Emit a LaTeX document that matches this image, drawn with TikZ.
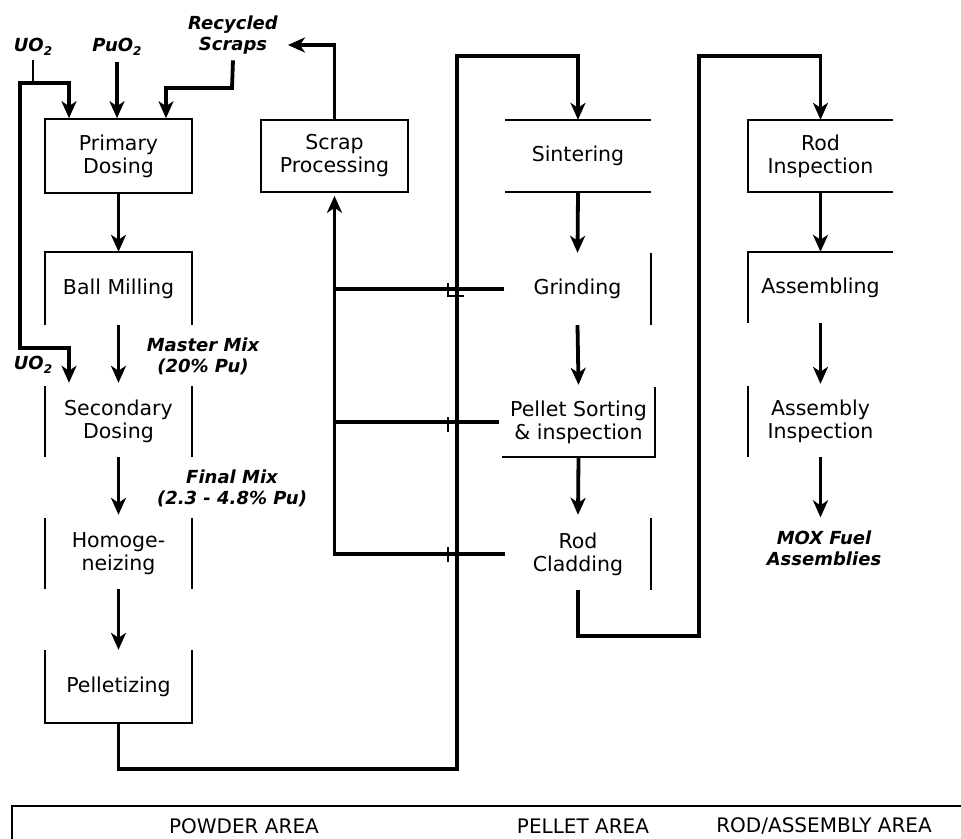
\documentclass[tikz,border=0pt]{standalone}
\usepackage{fontspec}
\newfontfamily\dv{DejaVu Sans}[BoldFont={DejaVu Sans Bold},ItalicFont={DejaVu Sans Oblique},BoldItalicFont={DejaVu Sans Bold Oblique}]
\usetikzlibrary{arrows.meta}
\newcommand\boxfont{\dv\fontsize{20.5}{23}\selectfont}
\newcommand\lblfont{\dv\bfseries\itshape\fontsize{18}{21}\selectfont}
\newcommand\areafont{\dv\fontsize{20}{23}\selectfont}
\newcommand\subtwo{\raisebox{-0.45ex}{\fontsize{12}{12}\selectfont 2}}
\begin{document}
\begin{tikzpicture}[x=1pt,y=-1pt,
  box/.style={inner sep=0pt, minimum width=147pt, minimum height=72pt, align=center, font=\boxfont},
  lbl/.style={inner sep=0pt, align=center, font=\lblfont},
  side/.style={line width=1.6pt},
  trunk/.style={line width=3.8pt},
  flow/.style={line width=3.8pt, -{Stealth[length=17pt,width=15pt,inset=5pt]}},
  bothflow/.style={line width=3.8pt, {Stealth[length=17pt,width=15pt,inset=5pt]}-{Stealth[length=17pt,width=15pt,inset=5pt]}},
  tickmark/.style={line width=1.4pt}]
\useasboundingbox (0,0) rectangle (961,838);
\clip (0,0) rectangle (961,838);

% ---------- powder column ----------
\node[box, minimum height=74pt, draw, side] (pd) at (118.5,156) {Primary\\Dosing};
\node[box, minimum height=73pt] (bm) at (118.5,288.5) {Ball Milling};
\node[box, minimum height=71pt] (sd) at (118.5,421.5) {Secondary\\Dosing};
\node[box, minimum height=71pt] (hom) at (118.5,553.5) {Homoge-\\neizing};
\node[box, minimum height=73pt] (pel) at (118.5,686.5) {Pelletizing};
\node[box, draw, side] (sp) at (334.5,156) {Scrap\\Processing};

% ---------- pellet column ----------
\node[box, minimum width=146pt] (sin) at (578,156) {Sintering};
\node[box, minimum width=146pt] (grd) at (577.5,289) {Grinding};
\node[box, minimum width=153pt, minimum height=70pt] (pso) at (578.5,422) {Pellet Sorting\\\& inspection};
\node[box, minimum width=146pt] (rc) at (578,554) {Rod\\Cladding};

% ---------- rod / assembly column ----------
\node[box, minimum width=145pt] (ri) at (820.5,156) {Rod\\Inspection};
\node[box, minimum width=145pt, minimum height=71pt] (asm) at (820.5,287.5) {Assembling};
\node[box, minimum width=145pt, minimum height=71pt] (ai) at (820.5,421.5) {Assembly\\Inspection};

% ---------- labels ----------
\node[lbl] (uo) at (33,47) {UO\subtwo};
\node[lbl] (pu) at (117,47) {PuO\subtwo};
\node[lbl] (rs) at (233,35) {Recycled\\Scraps};
\node[lbl] (uo2) at (33,365) {UO\subtwo};
\node[lbl] (mm) at (203,356) {Master Mix\\(20\% Pu)};
\node[lbl] (fm) at (232,488) {Final Mix\\(2.3 - 4.8\% Pu)};
\node[lbl] (mox) at (824,548) {MOX Fuel\\Assemblies};

% ---------- partial box outlines ----------
\draw[side] (bm.south west) -- (bm.north west) -- (bm.north east) -- (bm.south east);
\draw[side] (sd.north west) -- (sd.south west) (sd.north east) -- (sd.south east);
\draw[side] (hom.north west) -- (hom.south west) (hom.north east) -- (hom.south east);
\draw[side] (pel.north west) -- (pel.south west) -- (pel.south east) -- (pel.north east);
\draw[side] (sin.north west) -- (sin.north east) (sin.south west) -- (sin.south east);
\draw[side] (grd.north east) -- (grd.south east);
\draw[side] (pso.north east) -- (pso.south east) -- (pso.south west);
\draw[side] (rc.north east) -- (rc.south east);
\draw[side] (ri.north east) -- (ri.north west) -- (ri.south west) -- (ri.south east);
\draw[side] (asm.north east) -- (asm.north west) -- (asm.south west);
\draw[side] (ai.north west) -- (ai.south west);

% ---------- inputs ----------
\coordinate (u1) at (33,83);
\coordinate (u2) at (20,83);
\coordinate (u3) at (69,83);
\coordinate (u4) at (20,348);
\coordinate (u5) at (69,348);
\draw[side] (uo.south) ++(0,4) -- (u1);
\draw[bothflow] (u3 |- pd.north) -- (u3) -- (u2) -- (u4) -- (u5) -- ([yshift=3pt]u5 |- sd.north);
\draw[flow] ([yshift=-6pt]pu.south) -- (pu.south |- pd.north);
\coordinate (k1) at (232,88);
\coordinate (k2) at (166,88);
\draw[flow] ([yshift=-6pt]rs.south) -- (k1) -- (k2) -- (k2 |- pd.north);

% ---------- powder flow ----------
\draw[flow] (pd.south) -- (bm.north);
\draw[flow] (bm.south) -- ([yshift=3pt]sd.north);
\draw[flow] (sd.south) -- ([yshift=3pt]hom.north);
\draw[flow] (hom.south) -- (pel.north);
\coordinate (p1) at (457,769);
\coordinate (p2) at (457,56);
\draw[flow] (pel.south) |- (p1) -- (p2) -| (sin.north);

% ---------- pellet flow ----------
\draw[flow] (sin.south) -- (grd.north);
\draw[flow] (grd.south) -- ([yshift=2pt]pso.north);
\draw[flow] (pso.south) -- ([yshift=3pt]rc.north);
\coordinate (r1) at (699,636);
\coordinate (r2) at (699,56);
\draw[flow] (rc.south) |- (r1) -- (r2) -| (ri.north);

% ---------- rod flow ----------
\draw[flow] (ri.south) -- (asm.north);
\draw[flow] (asm.south) -- ([yshift=2pt]ai.north);
\draw[flow, shorten >=13pt] (ai.south) -- (ai.south |- mox.north);

% ---------- scrap recycling ----------
\draw[trunk] (grd.west) -- (grd.west -| sp.south);
\draw[trunk] ([xshift=-3pt]pso.west) -- (pso.west -| sp.south);
\draw[flow] (rc.west) -| ([yshift=-3pt]sp.south);
\draw[flow] (sp.north) |- ([xshift=10pt,yshift=-10pt]rs.east);

% crossing marks
\draw[tickmark] (448,283) -- (448,296) -- (464,296);
\draw[tickmark] (448,417) -- (448,432);
\draw[tickmark] (448,547) -- (448,562);

% ---------- area strip ----------
\node[draw, side, inner sep=0pt, anchor=north west, minimum width=1000pt, minimum height=80pt] (area) at (11,805) {};
\node[font=\areafont, inner sep=0pt] (pa) at (244,826) {POWDER AREA};
\node[font=\areafont, inner sep=0pt] (pla) at (583,826) {PELLET AREA};
\node[font=\areafont, inner sep=0pt] (ra) at (824,826) {ROD/ASSEMBLY AREA};
\end{tikzpicture}
\end{document}
